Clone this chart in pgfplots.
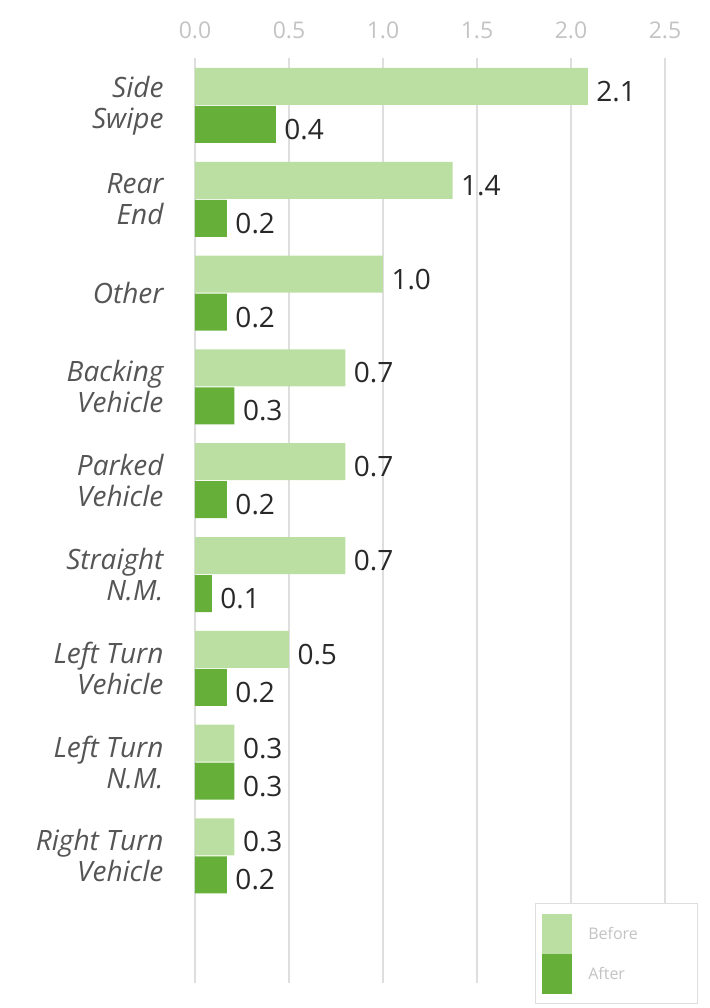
\documentclass[border=0pt]{standalone}
\usepackage{pgfplots}
\pgfplotsset{compat=1.18}
\usepackage{pgfplotstable}
\usepackage{fontspec}
\setmainfont{Open Sans}
\definecolor{beforec}{RGB}{187,223,162}
\definecolor{afterc}{RGB}{102,176,58}
\definecolor{gridc}{RGB}{222,222,222}
\definecolor{tickc}{RGB}{195,195,195}
\definecolor{catc}{RGB}{85,85,85}
\definecolor{valc}{RGB}{40,40,40}

\pgfplotstableread{
y x lab
8 2.09 2.1
7 1.37 1.4
6 1.00 1.0
5 0.80 0.7
4 0.80 0.7
3 0.80 0.7
2 0.50 0.5
1 0.21 0.3
0 0.21 0.3
}\before

\pgfplotstableread{
y x lab
8 0.43 0.4
7 0.17 0.2
6 0.17 0.2
5 0.21 0.3
4 0.17 0.2
3 0.09 0.1
2 0.17 0.2
1 0.21 0.3
0 0.17 0.2
}\after

\begin{document}
\begin{tikzpicture}
\begin{axis}[
  name=ax,
  scale only axis,
  width=470pt, height=925pt,
  xmin=0, xmax=2.5,
  ymin=-1.354, ymax=8.506,
  axis line style={draw=none},
  major tick length=0pt,
  xtick={0,0.5,1,1.5,2,2.5},
  xticklabel pos=upper,
  xmajorgrids,
  grid style={draw=gridc, line width=1.6pt},
  xticklabel style={font=\fontsize{23}{23}\selectfont, text=tickc, yshift=16pt},
  /pgf/number format/.cd, fixed, fixed zerofill, precision=1, assume math mode=true,
  /pgfplots/.cd,
  ytick={0,1,2,3,4,5,6,7,8},
  yticklabels={{Right Turn\\Vehicle},{Left Turn\\N.M.},{Left Turn\\Vehicle},{Straight\\N.M.},{Parked\\Vehicle},{Backing\\Vehicle},{Other},{Rear\\End},{Side\\Swipe}},
  yticklabel style={align=right, font=\fontsize{28}{31}\selectfont\itshape, text=catc, xshift=-28pt},
  xbar,
  bar width=37pt,
  nodes near coords,
  point meta=explicit symbolic,
  nodes near coords style={anchor=west, font=\fontsize{28}{28}\selectfont, text=valc, xshift=5pt, yshift=-5pt},
  legend style={at={(rel axis cs:0.723,0.086)}, anchor=north west, draw=gridc, line width=1pt,
    fill=white, inner xsep=7pt, inner ysep=10pt, row sep=0pt, column sep=14pt,
    font=\fontsize{16}{16}\selectfont, text=tickc,
    nodes={text width=100pt}},
  legend cell align=left,
  legend image code/.code={\fill[#1, draw=none] (0pt,-20pt) rectangle (30pt,20pt);},
]
\addplot[fill=beforec, draw=none, bar shift=19pt] table[x=x, y=y, meta=lab] {\before};
\addplot[fill=afterc, draw=none, bar shift=-19pt] table[x=x, y=y, meta=lab] {\after};
\legend{Before, After}
\end{axis}
\pgfresetboundingbox
\path ([xshift=-195pt,yshift=-25pt]ax.south west) rectangle ([xshift=45pt,yshift=58pt]ax.north east);
\end{tikzpicture}
\end{document}
